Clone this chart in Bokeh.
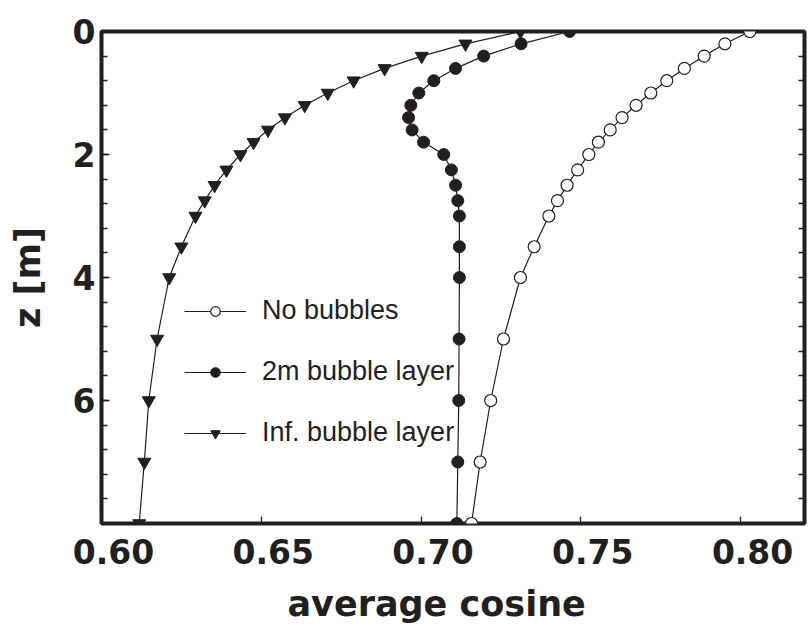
from bokeh.plotting import figure
from bokeh.models import Range1d, FixedTicker, LinearAxis, Legend, LegendItem, Title
from bokeh.embed import file_html
from bokeh.resources import INLINE

# ---- data ----
depth_z = [0, 0.2, 0.4, 0.6, 0.8, 1.0, 1.2, 1.4, 1.6, 1.8, 2.0, 2.25, 2.5, 2.75, 3.0, 3.5, 4, 5, 6, 7, 8]

no_bubbles = [0.8029, 0.7951, 0.7886, 0.7824, 0.7769, 0.7719, 0.7673, 0.7629, 0.7592, 0.7555, 0.7525,
              0.7490, 0.7457, 0.7427, 0.7400, 0.7354, 0.7311, 0.7258, 0.7218, 0.7185, 0.7158]

two_m_layer = [0.7465, 0.7313, 0.7196, 0.7108, 0.7040, 0.6993, 0.6968, 0.6961, 0.6972, 0.7008, 0.7071,
               0.7095, 0.7108, 0.7115, 0.7120, 0.7120, 0.7120, 0.7119, 0.7118, 0.7115, 0.7112]

inf_layer = [0.7311, 0.7139, 0.7002, 0.6886, 0.6789, 0.6708, 0.6636, 0.6574, 0.6521, 0.6476, 0.6435,
             0.6391, 0.6354, 0.6323, 0.6294, 0.6250, 0.6212, 0.6174, 0.6148, 0.6134, 0.6118]

series_names = ["No bubbles", "2m bubble layer", "Inf. bubble layer"]

x_ticks = [0.60, 0.65, 0.70, 0.75, 0.80]
x_tick_labels = ["0.60", "0.65", "0.70", "0.75", "0.80"]
y_ticks = [0, 2, 4, 6]
y_minor = [round(0.4 * i, 1) for i in range(1, 20)]

INK = "#231f20"
X0, X1 = 0.60, 0.82
FRAME_W = 703
LABEL_SHIFT = 12 * (X1 - X0) / FRAME_W   # tick labels sit a little right of their ticks

p = figure(frame_width=FRAME_W, frame_height=492,
           x_range=Range1d(X0, X1), y_range=Range1d(8, 0),
           output_backend="svg", toolbar_location=None,
           min_border_left=101, min_border_right=3, min_border_top=31, min_border_bottom=104,
           background_fill_color="white", border_fill_color="white")
p.extra_x_ranges = {"labels": Range1d(X0 - LABEL_SHIFT, X1 - LABEL_SHIFT)}

p.grid.visible = False
p.outline_line_color = INK
p.outline_line_width = 4

# x axis: ticks only
xa = p.xaxis[0]
xa.ticker = FixedTicker(ticks=[], minor_ticks=x_ticks)
xa.axis_line_color = None
xa.major_tick_line_color = None
xa.minor_tick_in = 7
xa.minor_tick_out = 0
xa.minor_tick_line_color = INK
xa.minor_tick_line_width = 1.3
xa.major_label_standoff = 0

# x axis: labels only
xl = LinearAxis(x_range_name="labels", ticker=FixedTicker(ticks=x_ticks, minor_ticks=[]),
                major_label_overrides={t: l for t, l in zip(x_ticks, x_tick_labels)},
                axis_line_color=None, major_tick_line_color=None, minor_tick_line_color=None,
                major_tick_in=0, major_tick_out=0, major_label_standoff=15,
                major_label_text_font="DejaVu Sans", major_label_text_font_style="bold",
                major_label_text_font_size="33px", major_label_text_color=INK)
p.add_layout(xl, "below")

# x axis title
xt = Title(text="average cosine", align="left", offset=186, vertical_align="top", standoff=34,
           text_font="DejaVu Sans", text_font_style="bold", text_font_size="35px",
           text_color=INK)
p.add_layout(xt, "below")

# y axis
ya = p.yaxis[0]
ya.ticker = FixedTicker(ticks=y_ticks, minor_ticks=y_minor)
ya.axis_label = "z [m]"
ya.axis_line_color = None
ya.major_tick_in = 8
ya.major_tick_out = 0
ya.minor_tick_in = 6
ya.minor_tick_out = 0
ya.major_tick_line_color = INK
ya.minor_tick_line_color = INK
ya.major_tick_line_width = 1.3
ya.minor_tick_line_width = 1.3
ya.major_label_text_font = "DejaVu Sans"
ya.major_label_text_font_style = "bold"
ya.major_label_text_font_size = "33px"
ya.major_label_text_color = INK
ya.axis_label_text_font = "DejaVu Sans"
ya.axis_label_text_font_style = "bold"
ya.axis_label_text_font_size = "35px"
ya.axis_label_text_color = INK
ya.major_label_standoff = 6
ya.axis_label_standoff = 22

# right-hand ticks (no labels)
ra = LinearAxis(ticker=FixedTicker(ticks=[], minor_ticks=y_minor), axis_line_color=None,
                major_tick_line_color=None,
                minor_tick_in=6, minor_tick_out=0,
                minor_tick_line_color=INK, minor_tick_line_width=1.3)
p.add_layout(ra, "right")

# series
r1l = p.line(no_bubbles, depth_z, line_color=INK, line_width=1.2)
r1m = p.scatter(no_bubbles, depth_z, marker="circle", size=12, fill_color="white",
                line_color=INK, line_width=1.2)
r2l = p.line(two_m_layer, depth_z, line_color=INK, line_width=1.2)
r2m = p.scatter(two_m_layer, depth_z, marker="circle", size=12, fill_color=INK,
                line_color=INK, line_width=1)
r3l = p.line(inf_layer, depth_z, line_color=INK, line_width=1.2)
r3m = p.scatter(inf_layer, depth_z, marker="inverted_triangle", size=13, fill_color=INK,
                line_color=INK, line_width=1)

legend = Legend(items=[LegendItem(label=series_names[0], renderers=[r1l, r1m]),
                       LegendItem(label=series_names[1], renderers=[r2l, r2m]),
                       LegendItem(label=series_names[2], renderers=[r3l, r3m])],
                location=(83, 75), orientation="vertical",
                glyph_width=62, glyph_height=24, label_height=24,
                label_standoff=16, spacing=30, padding=0, margin=0,
                border_line_color=None, background_fill_alpha=0,
                label_text_font="Liberation Sans", label_text_font_size="27px",
                label_text_color=INK)
p.add_layout(legend, "center")

open("out.html", "w").write(file_html(p, INLINE))
